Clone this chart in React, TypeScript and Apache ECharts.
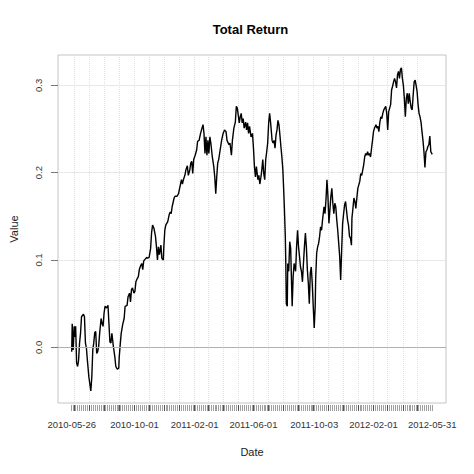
import React, { useEffect, useRef } from "react";
import * as echarts from "echarts";

const chartTitle = "Total Return";
const xAxisName = "Date";
const yAxisName = "Value";

// series starts on this date; offsets are calendar days from it
const seriesStart = "2010-05-26";
// x axis range (R pads ~4% on each side)
const axisStart = "2010-04-28";
const axisEnd = "2012-06-28";

const dayOffsets = [
  0, 1, 3, 5, 7, 8, 10, 12, 14, 16, 18, 20, 24, 26, 28, 30, 32, 35, 39, 41,
  43, 45, 47, 49, 51, 53, 55, 57, 60, 62, 64, 66, 68, 71, 74, 76, 78, 80, 82, 85,
  88, 90, 93, 96, 97, 99, 101, 104, 107, 109, 113, 115, 118, 120, 122, 124, 127, 129, 131, 134,
  136, 138, 141, 143, 145, 147, 150, 153, 155, 158, 161, 163, 165, 168, 171, 173, 175, 177, 179, 182,
  184, 187, 188, 190, 192, 196, 199, 201, 203, 205, 209, 211, 215, 218, 221, 224, 226, 228, 231, 233,
  236, 238, 241, 243, 245, 247, 249, 252, 255, 257, 260, 263, 265, 268, 270, 272, 274, 276, 278, 280,
  282, 284, 287, 290, 292, 294, 296, 298, 300, 303, 306, 309, 312, 315, 317, 321, 323, 326, 328, 331,
  334, 336, 338, 340, 342, 344, 346, 348, 350, 352, 355, 357, 359, 361, 363, 366, 369, 371, 373, 375,
  377, 380, 382, 384, 386, 388, 390, 392, 394, 396, 398, 400, 402, 404, 406, 409, 411, 413, 415, 417,
  419, 421, 423, 425, 427, 429, 431, 433, 434, 436, 437, 438, 440, 441, 443, 445, 447, 448, 450, 452,
  454, 457, 459, 461, 463, 465, 467, 469, 471, 473, 475, 477, 479, 481, 483, 485, 487, 489, 491, 493,
  495, 497, 498, 500, 502, 504, 506, 508, 510, 512, 515, 517, 519, 521, 523, 525, 527, 529, 531, 533,
  535, 537, 539, 541, 543, 545, 547, 549, 551, 553, 555, 557, 559, 563, 565, 567, 569, 571, 572, 574,
  576, 578, 580, 582, 584, 586, 588, 590, 592, 594, 596, 598, 600, 602, 604, 606, 608, 610, 612, 614,
  616, 618, 621, 623, 625, 627, 629, 631, 633, 635, 637, 639, 641, 643, 645, 647, 649, 651, 653, 655,
  657, 659, 661, 663, 665, 667, 669, 671, 673, 675, 677, 679, 681, 683, 685, 687, 689, 691, 693, 695,
  697, 699, 701, 703, 705, 707, 709, 711, 713, 715, 717, 719, 721, 723, 725, 727, 729, 731, 733, 736,
];

const values = [
  -0.005, 0.027, -0.003, 0.024, 0.012, 0.024, -0.018, -0.022, -0.015, 0.005, 0.016, 0.035, 0.038, 0.035, 0.005, -0.001, -0.015, -0.034, -0.05, -0.034,
  -0.003, 0.005, 0.017, 0.018, -0.007, -0.005, 0.001, 0.016, 0.033, 0.027, 0.024, 0.039, 0.047, 0.045, 0.048, 0.027, 0.006, 0.005, 0.016, 0.001,
  -0.011, -0.022, -0.025, -0.024, -0.011, 0.003, 0.016, 0.026, 0.033, 0.047, 0.048, 0.058, 0.062, 0.052, 0.066, 0.068, 0.062, 0.064, 0.075, 0.079,
  0.081, 0.089, 0.094, 0.096, 0.089, 0.099, 0.101, 0.103, 0.102, 0.103, 0.113, 0.131, 0.14, 0.136, 0.127, 0.115, 0.1, 0.115, 0.106, 0.117,
  0.102, 0.1, 0.115, 0.134, 0.14, 0.144, 0.152, 0.155, 0.153, 0.161, 0.171, 0.173, 0.173, 0.176, 0.184, 0.192, 0.187, 0.192, 0.197, 0.203,
  0.208, 0.197, 0.203, 0.211, 0.213, 0.199, 0.215, 0.22, 0.226, 0.236, 0.237, 0.245, 0.249, 0.255, 0.245, 0.222, 0.241, 0.22, 0.237, 0.222,
  0.241, 0.234, 0.218, 0.207, 0.195, 0.176, 0.195, 0.211, 0.215, 0.226, 0.237, 0.245, 0.249, 0.247, 0.237, 0.232, 0.234, 0.22, 0.237, 0.251,
  0.258, 0.276, 0.274, 0.266, 0.257, 0.264, 0.268, 0.257, 0.262, 0.251, 0.258, 0.249, 0.257, 0.245, 0.253, 0.241, 0.245, 0.228, 0.207, 0.195,
  0.207, 0.192, 0.197, 0.187, 0.194, 0.203, 0.215, 0.199, 0.192, 0.215, 0.224, 0.234, 0.257, 0.268, 0.257, 0.237, 0.234, 0.237, 0.228, 0.243,
  0.249, 0.26, 0.255, 0.243, 0.23, 0.218, 0.203, 0.176, 0.161, 0.127, 0.096, 0.05, 0.047, 0.096, 0.087, 0.121, 0.113, 0.089, 0.047, 0.081,
  0.096, 0.087, 0.115, 0.134, 0.115, 0.104, 0.092, 0.087, 0.075, 0.096, 0.115, 0.131, 0.115, 0.089, 0.073, 0.05, 0.085, 0.092, 0.073, 0.047,
  0.022, 0.047, 0.079, 0.108, 0.115, 0.119, 0.127, 0.138, 0.134, 0.146, 0.161, 0.153, 0.169, 0.192, 0.173, 0.142, 0.157, 0.173, 0.182, 0.165,
  0.153, 0.165, 0.161, 0.146, 0.134, 0.119, 0.104, 0.077, 0.111, 0.142, 0.153, 0.163, 0.167, 0.146, 0.14, 0.127, 0.125, 0.117, 0.148, 0.159,
  0.171, 0.167, 0.159, 0.171, 0.182, 0.186, 0.19, 0.199, 0.197, 0.203, 0.209, 0.218, 0.222, 0.22, 0.224, 0.22, 0.222, 0.218, 0.228, 0.237,
  0.247, 0.251, 0.255, 0.251, 0.253, 0.247, 0.258, 0.264, 0.262, 0.268, 0.272, 0.274, 0.276, 0.268, 0.249, 0.27, 0.274, 0.278, 0.295, 0.299,
  0.304, 0.308, 0.304, 0.297, 0.312, 0.316, 0.308, 0.318, 0.32, 0.308, 0.3, 0.285, 0.264, 0.285, 0.291, 0.279, 0.291, 0.281, 0.274, 0.272,
  0.289, 0.304, 0.306, 0.3, 0.293, 0.278, 0.268, 0.264, 0.258, 0.247, 0.237, 0.224, 0.206, 0.224, 0.226, 0.23, 0.232, 0.242, 0.224, 0.221,
];

const xTickLabels = [
  "2010-05-26",
  "2010-10-01",
  "2011-02-01",
  "2011-06-01",
  "2011-10-03",
  "2012-02-01",
  "2012-05-31",
];

const yTickValues = [0, 0.1, 0.2, 0.3];
const yMin = -0.0638;
const yMax = 0.3348;

const DAY = 86400000;
const toMs = (s: string) => Date.parse(s + "T00:00:00Z");
const fmtDay = (ms: number) => new Date(ms).toISOString().slice(0, 10);

const FONT = "'Liberation Sans', Arial, Helvetica, sans-serif";

export default function App() {
  const ref = useRef<HTMLDivElement>(null);

  useEffect(() => {
    const el = ref.current;
    if (!el) return;
    const chart = echarts.init(el, null, { renderer: "svg" });

    const a0 = toMs(axisStart);
    const a1 = toMs(axisEnd);
    const nDays = Math.round((a1 - a0) / DAY);
    const categories: string[] = [];
    for (let i = 0; i <= nDays; i++) categories.push(fmtDay(a0 + i * DAY));

    const s0 = toMs(seriesStart);
    const firstIdx = Math.round((s0 - a0) / DAY);
    const lastIdx = firstIdx + dayOffsets[dayOffsets.length - 1];
    const data = dayOffsets.map((d, i) => [fmtDay(s0 + d * DAY), values[i]]);

    const inRange = (i: number) => i >= firstIdx && i <= lastIdx;

    chart.setOption({
      animation: false,
      backgroundColor: "#ffffff",
      title: {
        text: chartTitle,
        left: 250.5,
        top: 23,
        textAlign: "center",
        padding: 0,
        textStyle: { fontFamily: FONT, fontSize: 13, fontWeight: "bold", color: "#000" },
      },
      grid: {
        left: 55,
        top: 55,
        right: 28,
        bottom: 71,
        show: true,
        borderColor: "#c4c4c4",
        borderWidth: 1,
        backgroundColor: "transparent",
      },
      xAxis: [
        {
          type: "category",
          data: categories,
          boundaryGap: false,
          position: "bottom",
          offset: 2,
          axisLine: { show: false, onZero: false },
          axisTick: {
            show: true,
            length: 6,
            interval: (i: number) => inRange(i) && (i - firstIdx) % 4 === 0,
            lineStyle: { color: "#a0a0a0", width: 1 },
          },
          axisLabel: {
            show: true,
            interval: (_i: number, v: string) => xTickLabels.indexOf(v) >= 0,
            margin: 14,
            fontFamily: FONT,
            fontSize: 9.5,
            color: "#333",
          },
          splitLine: { show: false },
          name: xAxisName,
          nameLocation: "middle",
          nameGap: 41,
          nameTextStyle: { fontFamily: FONT, fontSize: 11, color: "#222" },
        },
        {
          type: "category",
          data: categories,
          boundaryGap: false,
          position: "bottom",
          offset: 2,
          axisLine: { show: false, onZero: false },
          axisTick: {
            show: true,
            length: 6,
            interval: (i: number, v: string) => inRange(i) && v.slice(8) === "01",
            lineStyle: { color: "#555", width: 1 },
          },
          axisLabel: { show: false },
          splitLine: {
            show: true,
            interval: (i: number, v: string) => inRange(i) && v.slice(8) === "01",
            lineStyle: { color: "#e0e0e0", type: "dotted", width: 1 },
          },
        },
      ],
      yAxis: {
        type: "value",
        min: yMin,
        max: yMax,
        axisLine: { show: false },
        axisTick: {
          show: true,
          length: 7,
          customValues: yTickValues,
          lineStyle: { color: "#777" },
        },
        axisLabel: {
          customValues: yTickValues,
          rotate: 90,
          margin: 15,
          fontFamily: FONT,
          fontSize: 9.5,
          color: "#333",
          formatter: (v: number) => v.toFixed(1),
        },
        splitLine: { show: true, lineStyle: { color: "#e8e8e8", width: 1 } },
        name: yAxisName,
        nameLocation: "middle",
        nameGap: 39,
        nameTextStyle: { fontFamily: FONT, fontSize: 11, color: "#222" },
      },
      series: [
        {
          type: "line",
          xAxisIndex: 0,
          data,
          showSymbol: false,
          symbol: "none",
          lineStyle: { color: "#000", width: 1.4 },
          silent: true,
          markLine: {
            silent: true,
            symbol: ["none", "none"],
            label: { show: false },
            lineStyle: { color: "#b0b0b0", type: "solid", width: 1 },
            data: [{ yAxis: 0 }],
          },
        },
      ],
    });

    return () => {
      chart.dispose();
    };
  }, []);

  return (
    <div
      ref={ref}
      style={{ position: "fixed", left: 0, top: 0, width: 474, height: 474 }}
    />
  );
}
